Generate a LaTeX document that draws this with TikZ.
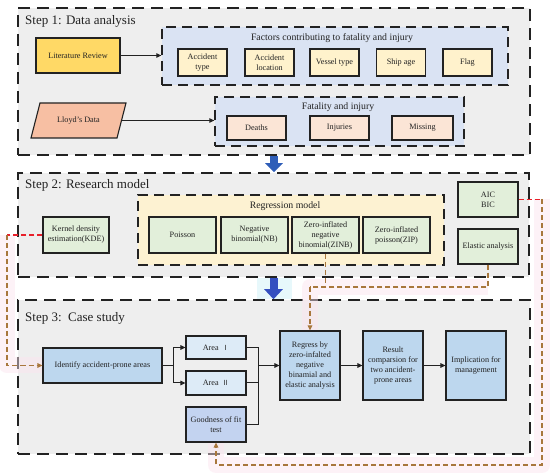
\documentclass[tikz,border=0pt]{standalone}
\usepackage{fontspec}
\setmainfont{Liberation Serif}
\newfontfamily\cjk{Noto Sans CJK SC}
\usetikzlibrary{arrows.meta,calc}
\pgfdeclarelayer{bg}
\pgfdeclarelayer{glowl}
\pgfsetlayers{bg,glowl,main}
\definecolor{stepgray}{HTML}{EEEEEE}
\definecolor{grpblue}{HTML}{DAE3F3}
\definecolor{grpyel}{HTML}{FDF2D2}
\definecolor{factc}{HTML}{FFF2CC}
\definecolor{litc}{HTML}{FFD966}
\definecolor{lloydc}{HTML}{F7BFA3}
\definecolor{fatc}{HTML}{FBE5D6}
\definecolor{greenc}{HTML}{E2EFDA}
\definecolor{bluec}{HTML}{BDD7EE}
\definecolor{areac}{HTML}{DDEBF7}
\definecolor{goodc}{HTML}{C3D3F0}
\definecolor{brn}{HTML}{A8773C}
\definecolor{redc}{HTML}{E8202A}
\definecolor{barrow}{HTML}{2F5EB8}
\definecolor{barrowb}{HTML}{3550C0}
\definecolor{pinkglow}{HTML}{FCE4EE}
\definecolor{cyanglow}{HTML}{DDF6FA}
\definecolor{ink}{HTML}{222222}
\begin{document}
\begin{tikzpicture}[x=1pt,y=-1pt,
  stepbox/.style={draw=ink, line width=1.5pt, dash pattern=on 12pt off 7pt, fill=stepgray, inner sep=0pt},
  grp/.style={draw=ink, line width=1.3pt, dash pattern=on 10pt off 6pt, inner sep=0pt},
  bx/.style={draw=ink, line width=1.1pt, align=center, inner sep=1pt, font=\fontsize{8.2}{10}\selectfont, text=ink},
  steptitle/.style={anchor=west, font=\fontsize{13}{15}\selectfont, inner sep=0pt, text=ink},
  grptitle/.style={font=\fontsize{9.8}{11}\selectfont, inner sep=0pt, text=ink},
  arr/.style={-{Triangle[length=5pt,width=4.5pt]}, line width=1pt, draw=ink},
  conn/.style={line width=1.1pt, dash pattern=on 5pt off 3pt},
  ctip/.style={-{Triangle[length=5pt,width=4.5pt]}},
  glow/.style={line width=16pt, draw=pinkglow, opacity=0.45, line join=round},
  bluearr/.style={line width=8pt}
]
\useasboundingbox (0,0) rectangle (550,473);

% ---------- step boxes ----------
\begin{pgfonlayer}{bg}
\fill[white] (0,0) rectangle (550,473);
\node[stepbox, minimum width=512pt, minimum height=147pt] (step1) at (274,81.5) {};
\node[stepbox, minimum width=511pt, minimum height=104pt] (step2) at (273.5,225) {};
\node[stepbox, minimum width=512pt, minimum height=154pt] (step3) at (274,377) {};
\end{pgfonlayer}

\node[steptitle] (t1) at (25,21) {Step 1: Data analysis};
\node[steptitle] (t2) at (25,185) {Step 2: Research model};
\node[steptitle] (t3) at (25,318) {Step 3:\ \ Case study};

% ---------- Step 1 ----------
\node[grp, fill=grpblue, minimum width=346pt, minimum height=58pt] (factors) at (335,56) {};
\node[grptitle] (factorst) at (332,38) {Factors contributing to fatality and injury};
\node[bx, fill=litc, minimum width=84pt, minimum height=35pt] (lit) at (78,55.5) {Literature Review};
\foreach \n/\cx/\t in {f1/202.5/{Accident\\type}, f2/269.5/{Accident\\location}, f3/334.5/{Vessel type}, f4/401/{Ship age}, f5/467.5/{Flag}}{
  \node[bx, fill=factc, minimum width=49pt, minimum height=27pt] (\n) at (\cx,62.5) {\t};
}
\draw[arr] (lit.east) -- (factors.west |- lit.east);

\node[grp, fill=grpblue, minimum width=249pt, minimum height=49pt] (fatal) at (339.5,121.5) {};
\node[grptitle] (fatalt) at (338,107) {Fatality and injury};
\draw[draw=ink, line width=1.1pt, fill=lloydc] (40,103) -- (126,103) -- (117,138) -- (31,138) -- cycle;
\node[inner sep=0pt, minimum width=86pt, minimum height=35pt, font=\fontsize{8.2}{10}\selectfont, text=ink] (lloyd) at (78.5,120.5) {Lloyd's Data};
\node[bx, fill=fatc, minimum width=59pt, minimum height=24pt] (deaths) at (256.5,128) {Deaths};
\node[bx, fill=fatc, minimum width=59pt, minimum height=24pt] (injuries) at (339.5,128) {Injuries};
\node[bx, fill=fatc, minimum width=61pt, minimum height=24pt] (missing) at (422.5,128) {Missing};
\draw[arr] (lloyd.east) -- (fatal.west |- lloyd.east);

% ---------- Step 2 ----------
\node[grp, fill=grpyel, minimum width=306pt, minimum height=70pt] (regr) at (291,230) {};
\node[grptitle] (regrt) at (285,206) {Regression model};
\node[bx, fill=greenc, minimum width=66pt, minimum height=36pt] (kde) at (76,235) {Kernel density\\estimation(KDE)};
\node[bx, fill=greenc, minimum width=67pt, minimum height=36pt] (poisson) at (182.5,235) {Poisson};
\node[bx, fill=greenc, minimum width=67pt, minimum height=36pt] (nb) at (254.5,235) {Negative\\binomial(NB)};
\node[bx, fill=greenc, minimum width=67pt, minimum height=36pt] (zinb) at (325.5,235) {Zero-inflated\\negative\\binomial(ZINB)};
\node[bx, fill=greenc, minimum width=67pt, minimum height=36pt] (zip) at (396.5,235) {Zero-inflated\\poisson(ZIP)};
\node[bx, fill=greenc, minimum width=60pt, minimum height=35pt] (aic) at (488,199.5) {AIC\\BIC};
\node[bx, fill=greenc, minimum width=60pt, minimum height=35pt] (elastic) at (488,246.5) {Elastic analysis};

% ---------- Step 3 ----------
\node[bx, fill=bluec, minimum width=119pt, minimum height=35pt] (identify) at (102.5,365.5) {Identify accident-prone areas};
\node[bx, fill=areac, minimum width=60pt, minimum height=23pt] (area1) at (216,347.5) {Area \,{\cjk\fontsize{7}{8}\selectfont Ⅰ}};
\node[bx, fill=areac, minimum width=60pt, minimum height=24pt] (area2) at (216,383) {Area \,{\cjk\fontsize{7}{8}\selectfont Ⅱ}};
\node[bx, fill=goodc, minimum width=60pt, minimum height=35pt] (good) at (216,424.5) {Goodness of fit\\test};
\node[bx, fill=bluec, minimum width=60pt, minimum height=69pt] (regress) at (310,365.5) {Regress by\\zero-infalted\\negative\\binamial and\\elastic analysis};
\node[bx, fill=bluec, minimum width=60pt, minimum height=69pt] (result) at (393,365.5) {Result\\comparsion for\\two ancident-\\prone areas};
\node[bx, fill=bluec, minimum width=60pt, minimum height=69pt] (impl) at (476,365.5) {Implication for\\management};

\coordinate (split) at (173,365.5);
\coordinate (bus) at (258,365.5);
\draw[line width=1pt, draw=ink] (identify.east) -- (split);
\draw[arr] (split) |- (area1.west);
\draw[arr] (split) |- (area2.west);
\draw[line width=1pt, draw=ink] (area1.east) -| (bus);
\draw[line width=1pt, draw=ink] (area2.east) -| (bus);
\draw[line width=1pt, draw=ink] (good.east) -| (bus);
\draw[arr] (bus) -- (regress.west);
\draw[arr] (regress.east) -- (result.west);
\draw[arr] (result.east) -- (impl.west);

% ---------- dashed feedback connectors ----------
\coordinate (kl) at (7,235);
\coordinate (ar) at (542,199.5);
\coordinate (ab) at (542,465);
\coordinate (zb) at (325.5,287);
\coordinate (eb) at (488,287);
\coordinate (rb) at (310,287);

\begin{pgfonlayer}{glowl}
\draw[glow] (kl) |- (identify.west);
\draw[glow] (ar) -- (ab) -| (good.south);
\draw[glow] (eb) -- (rb) -- (regress.north);
\fill[cyanglow, opacity=0.7] (257,278) rectangle (292,299);
\end{pgfonlayer}

\draw[conn, draw=redc] (kde.west) -- (kl);
\draw[conn, draw=brn, ctip] (kl) |- (identify.west);
\draw[conn, draw=redc] (aic.east) -- (ar);
\draw[conn, draw=brn, ctip] (ar) -- (ab) -| (good.south);
\draw[conn, draw=brn] (zinb.south) -- (zb);
\draw[conn, draw=brn] (elastic.south) -- (eb) -- (rb);
\draw[conn, draw=brn, ctip] (rb) -- (regress.north);

% ---------- blue step arrows ----------
\draw[bluearr, draw=barrow, -{Triangle[length=9pt,width=17pt]}] (step1.south) -- (step1.south |- step2.north);
\draw[bluearr, draw=barrowb, -{Triangle[length=10pt,width=18pt]}] (step2.south) -- (step2.south |- step3.north);
\end{tikzpicture}
\end{document}
